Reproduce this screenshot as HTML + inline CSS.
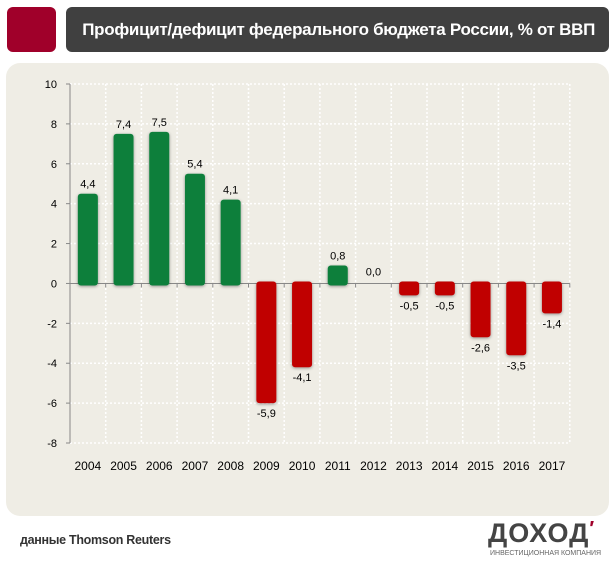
<!DOCTYPE html>
<html><head><meta charset="utf-8"><style>
body{margin:0;width:616px;height:562px;background:#fff;position:relative;overflow:hidden;font-family:"Liberation Sans",sans-serif}
#sq{position:absolute;left:7px;top:7px;width:49px;height:45px;background:#a0002a;border-radius:6px}
#tb{position:absolute;left:66px;top:7px;width:543px;height:45px;background:#404040;border-radius:6px;color:#fff;font-weight:bold;font-size:17px;line-height:45px;text-align:right;padding-right:14px;box-sizing:border-box;letter-spacing:-0.3px}
#panel{position:absolute;left:6px;top:63px;width:603px;height:453px;background:#efede5;border-radius:14px}
#src{position:absolute;left:20px;top:533px;font-size:12.5px;font-weight:bold;color:#333;letter-spacing:-0.3px}
#logo{position:absolute;left:488px;top:518px;font-size:27px;font-weight:bold;color:#444;letter-spacing:1px}
#logo2{position:absolute;left:490px;top:550px;font-size:7px;color:#666}
svg{position:absolute;left:0;top:0}
</style></head><body>
<div id="sq"></div>
<div id="tb">Профицит/дефицит федерального бюджета России, % от ВВП</div>
<div id="panel"></div>
<svg id="chart" width="616" height="562">
<defs><filter id="sh" x="-30%" y="-10%" width="160%" height="130%"><feGaussianBlur in="SourceAlpha" stdDeviation="1.5"/><feOffset dx="0" dy="1"/><feComponentTransfer><feFuncA type="linear" slope="0.4"/></feComponentTransfer><feMerge><feMergeNode/><feMergeNode in="SourceGraphic"/></feMerge></filter></defs>
</svg>
<div id="src">данные Thomson Reuters</div>
<div id="logo">ДОХОД<span style="color:#a0002a;font-size:20px;vertical-align:top">′</span></div>
<div id="logo2">ИНВЕСТИЦИОННАЯ КОМПАНИЯ</div>
<script>
const years=["2004","2005","2006","2007","2008","2009","2010","2011","2012","2013","2014","2015","2016","2017"];
const values=[4.4,7.4,7.5,5.4,4.1,-5.9,-4.1,0.8,0.0,-0.5,-0.5,-2.6,-3.5,-1.4];
const labels=["4,4","7,4","7,5","5,4","4,1","-5,9","-4,1","0,8","0,0","-0,5","-0,5","-2,6","-3,5","-1,4"];
const yTicks=[10,8,6,4,2,0,-2,-4,-6,-8];
const svg=document.getElementById('chart');const NS='http://www.w3.org/2000/svg';
const x0=70,cw=35.7,yMin=-8,yMax=10,yTop=84,yBot=443;
const y=v=>yTop+(yMax-v)*(yBot-yTop)/(yMax-yMin);
const xc=i=>x0+cw*(i+0.5);
function mk(t,a){const e=document.createElementNS(NS,t);for(const k in a)e.setAttribute(k,a[k]);svg.appendChild(e);return e;}
yTicks.forEach(t=>{
 if(t!==0){const g=mk('line',{x1:x0,x2:x0+cw*years.length,y1:y(t),y2:y(t),stroke:'#fff','stroke-width':1.5,'stroke-dasharray':'2,2'});
 }
 const tk=mk('line',{x1:x0-4,x2:x0,y1:y(t),y2:y(t),stroke:'#888'});
 
 const tl=mk('text',{x:x0-13,y:y(t)+4,'text-anchor':'end','font-size':11,fill:'#000'});tl.textContent=t;
 
});
for(let i=1;i<=years.length;i++){const g=mk('line',{x1:x0+cw*i,x2:x0+cw*i,y1:yTop,y2:yBot,stroke:'#fff','stroke-width':1.5,'stroke-dasharray':'2,2'});
 }
const ax=mk('line',{x1:x0,x2:x0,y1:yTop,y2:yBot,stroke:'#888'});

const zl=mk('line',{x1:x0,x2:x0+cw*years.length,y1:y(0),y2:y(0),stroke:'#888'});

for(let i=0;i<=years.length;i++){const t=mk('line',{x1:x0+cw*i,x2:x0+cw*i,y1:y(0),y2:y(0)+4,stroke:'#888'});
 }
years.forEach((yr,i)=>{
 const v=values[i];
 if(v!==0){const top=Math.min(y(v),y(0))-2,h=Math.abs(y(v)-y(0))+4;
  const r=mk('rect',{x:xc(i)-10,y:top,width:20,height:h,rx:3,fill:v>0?'#0a7f3b':'#c00000',filter:'url(#sh)'});
  }
 const ly=v>=0?y(v)-8:y(v)+16;
 const l=mk('text',{x:xc(i),y:ly,'text-anchor':'middle','font-size':11,fill:'#000'});l.textContent=labels[i];
 
 const xl=mk('text',{x:xc(i),y:470,'text-anchor':'middle','font-size':12,fill:'#000'});xl.textContent=yr;
 
});
</script>
</body></html>
